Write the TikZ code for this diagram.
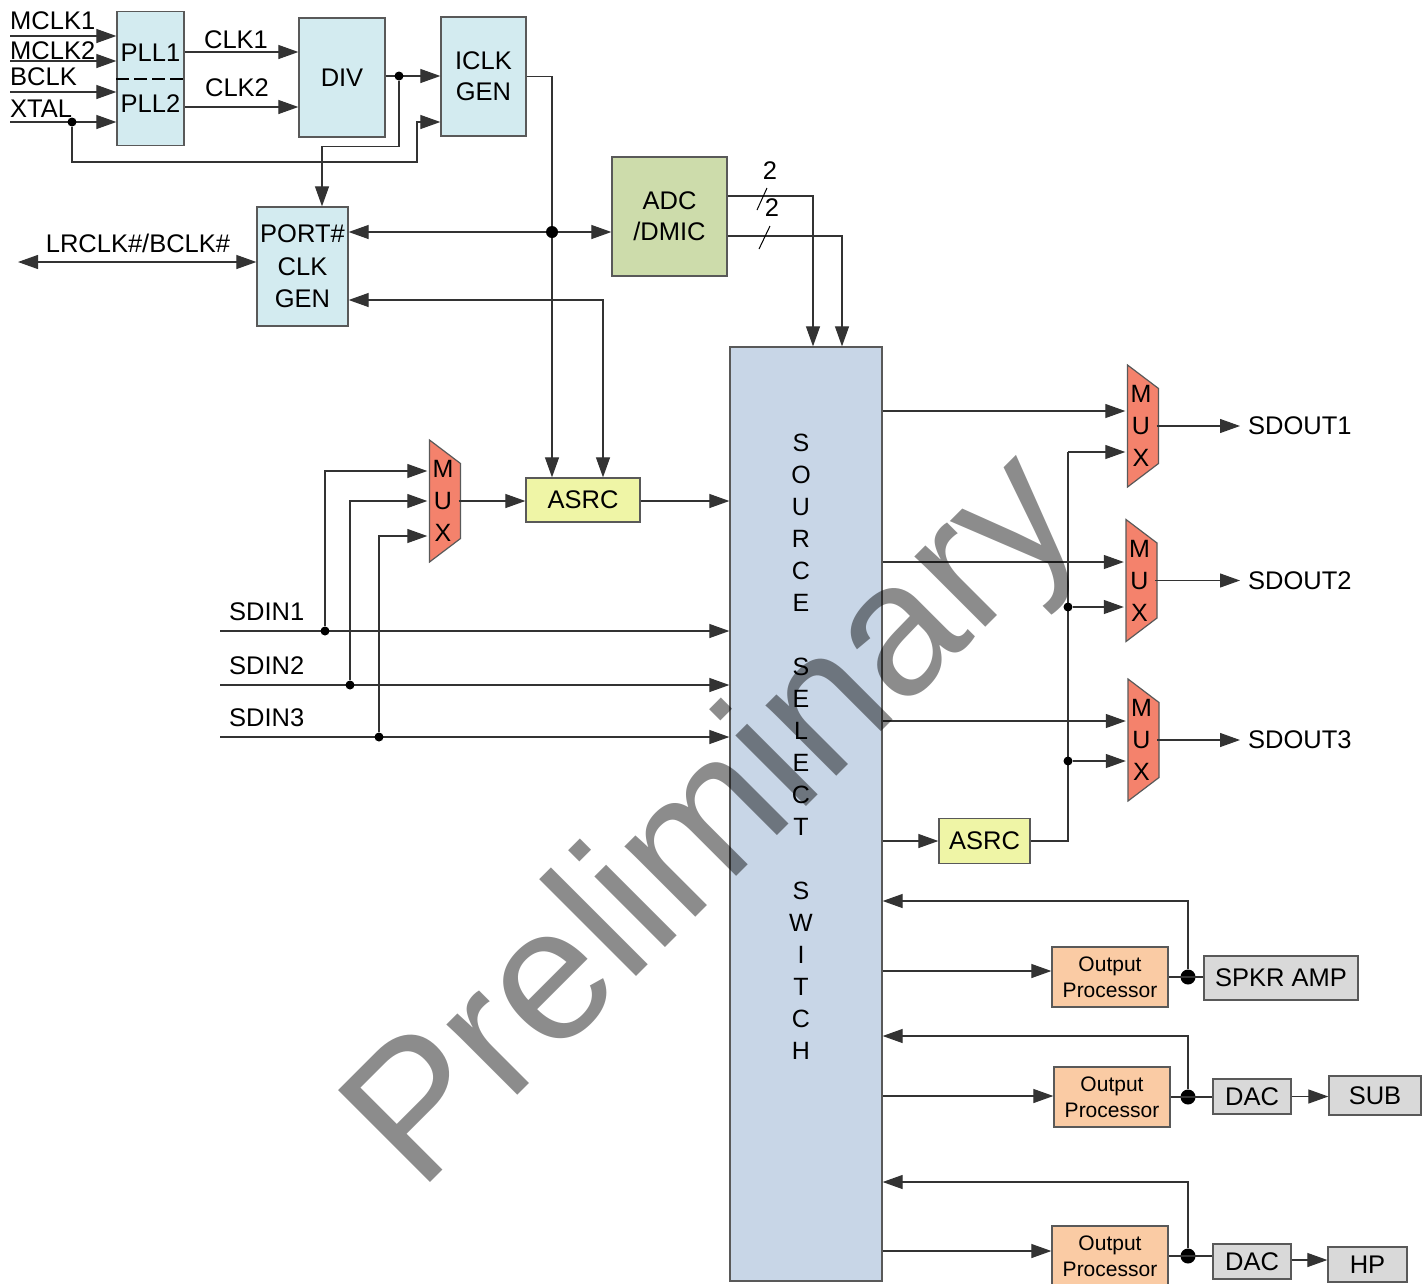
\documentclass[tikz,border=0pt]{standalone}
\usepackage{fontspec}
\setmainfont{Liberation Sans}
\usetikzlibrary{arrows.meta}

\definecolor{clkfill}{HTML}{D3EBF0}
\definecolor{adcfill}{HTML}{CDDCAB}
\definecolor{asrcfill}{HTML}{EFF5A6}
\definecolor{muxfill}{HTML}{F4826C}
\definecolor{sswfill}{HTML}{C8D6E7}
\definecolor{opfill}{HTML}{FACBA4}
\definecolor{devfill}{HTML}{D9D9D9}

\newcommand{\fsmain}{\fontsize{25.5}{31}\selectfont}
\newcommand{\fsport}{\fontsize{25.5}{32.5}\selectfont}
\newcommand{\fsop}{\fontsize{21}{26}\selectfont}
\newcommand{\fsssw}{\fontsize{25}{32}\selectfont}

\tikzset{
  wire/.style={line width=1.2pt, draw=black!80},
  arr/.style={-{Triangle[length=20pt,width=14pt]}},
  biarr/.style={{Triangle[length=20pt,width=14pt]}-{Triangle[length=20pt,width=14pt]}},
  blk/.style={draw=black!65, line width=1.3pt, inner sep=0pt, align=center, font=\fsmain},
  clkblk/.style={blk, fill=clkfill},
  adcblk/.style={blk, fill=adcfill},
  asrcblk/.style={blk, fill=asrcfill},
  sswblk/.style={blk, fill=sswfill},
  opblk/.style={blk, fill=opfill, font=\fsop},
  devblk/.style={blk, fill=devfill},
  muxshape/.style={draw=black!65, line width=1.2pt, fill=muxfill},
  muxbox/.style={minimum width=31pt, minimum height=122pt, inner sep=0pt, align=center, font=\fsssw},
  txt/.style={inner sep=0pt, font=\fsmain},
  dot/.style={circle, fill=black, inner sep=0pt, minimum size=9pt},
  bigdot/.style={dot, minimum size=15pt},
}

\newcommand{\muxat}[3]{%
    \draw[muxshape] (#2-15.5,#3-61) -- (#2+15.5,#3-37.5) -- (#2+15.5,#3+37.5) -- (#2-15.5,#3+61) -- cycle;
    \node[muxbox] (#1) at (#2-2,#3) {M\\U\\X};
}

\begin{document}
\begin{tikzpicture}[x=1pt, y=-1pt]
    \useasboundingbox (0,0) rectangle (1427,1283);

    \node[clkblk, minimum width=67pt, minimum height=134pt] (pll) at (150.5,78.5) {};
    \node[txt] (pllone) at (150.5,53) {PLL1};
    \node[txt] (plltwo) at (150.5,104) {PLL2};
    \draw[line width=2pt, dash pattern=on 13pt off 5pt] (pll.west) -- (pll.east);
    \node[clkblk, minimum width=86pt, minimum height=119pt] (div) at (342,77.5) {DIV};
    \node[clkblk, minimum width=85pt, minimum height=119pt] (iclk) at (483.5,76.5) {ICLK\\GEN};
    \node[clkblk, minimum width=91pt, minimum height=119pt, font=\fsport] (port) at (302.5,266.5) {PORT\#\\CLK\\GEN};
    \node[adcblk, minimum width=115pt, minimum height=119pt] (adc) at (669.5,216.5) {ADC\\/DMIC};

    \foreach \s/\y/\ly in {MCLK1/36/20.5, MCLK2/61/50.5, BCLK/92/76.5, XTAL/122/108.5} {
        \coordinate (in-\s) at (10,\y);
        \draw[wire, arr] (in-\s) -- (in-\s -| pll.west);
        \node[txt, anchor=west] (lbl-\s) at (10,\ly) {\s};
    }
    \draw[wire, arr] (pll.east |- 0,52) -- (div.west |- 0,52);
    \draw[wire, arr] (pll.east |- 0,107) -- (div.west |- 0,107);
    \node[txt] (lclkone) at (236,39.5) {CLK1};
    \node[txt] (lclktwo) at (237,88) {CLK2};

    \draw[wire, arr] (div.east |- 0,76) -- (iclk.west |- 0,76);
    \node[dot] (divtap) at (399,76) {};
    \draw[wire, arr] (divtap) -- ++(0,70.5) -| (port.north -| 322,0);
    \node[dot] (xtaltap) at (72,122) {};
    \draw[wire, arr] (xtaltap) |- (417,162) |- (iclk.west |- 0,122);

    \coordinate (lrend) at (18,262);
    \draw[wire, biarr] (lrend) -- (lrend -| port.west);
    \node[txt] (llrclk) at (138,243) {LRCLK\#/BCLK\#};

    \muxat{muxin}{445}{501}
    \node[asrcblk, minimum width=114pt, minimum height=44pt] (asrcone) at (583,500) {ASRC};
    \node[sswblk, minimum width=152pt, minimum height=934pt] (ssw) at (806,814) {};
    \node[txt, align=center, font=\fsssw] (sswtext) at (801,747)
        {S\\O\\U\\R\\C\\E\\[32pt]S\\E\\L\\E\\C\\T\\[32pt]S\\W\\I\\T\\C\\H};

    \draw[wire, arr] (iclk.east) -| (asrcone.north -| 552,0);
    \node[dot, minimum size=12pt] (clktap) at (552,232) {};
    \draw[wire, arr] (clktap) -- (port.east |- clktap);
    \draw[wire, arr] (clktap) -- (adc.west |- clktap);
    \draw[wire, biarr] (port.east |- 0,300) -| (asrcone.north -| 603,0);

    \draw[wire, arr] (adc.east |- 0,196) -| (ssw.north -| 813,0);
    \draw[wire, arr] (adc.east |- 0,236) -| (ssw.north -| 842,0);
    \draw[line width=1pt] (757,210) -- (767,188);
    \draw[line width=1pt] (759,249) -- (770,226);
    \node[txt] (wone) at (770,171) {2};
    \node[txt] (wtwo) at (772,208) {2};

    \foreach \n/\y/\xt/\my in {1/631/325/471, 2/685/350/501, 3/737/379/536} {
        \coordinate (sdin\n) at (220,\y);
        \draw[wire, arr] (sdin\n) -- (sdin\n -| ssw.west);
        \node[txt, anchor=west] (lsdin\n) at (229,\y-19) {SDIN\n};
        \node[dot] (tap\n) at (\xt,\y) {};
        \draw[wire, arr] (tap\n) |- (muxin.west |- 0,\my);
    }
    \draw[wire, arr] (muxin.east) -- (muxin.east -| asrcone.west);
    \draw[wire, arr] (asrcone.east |- muxin.east) -- (ssw.west |- muxin.east);

    \muxat{mux1}{1143}{426}
    \muxat{mux2}{1141.5}{580.5}
    \muxat{mux3}{1143.5}{740}
    \foreach \m/\y in {mux1/411, mux2/562, mux3/721}
        \draw[wire, arr] (ssw.east |- 0,\y) -- (\m.west |- 0,\y);
    \foreach \m/\s in {mux1/SDOUT1, mux2/SDOUT2, mux3/SDOUT3} {
        \node[txt, anchor=west, inner xsep=8pt] (\s) at (1240,0 |- \m.east) {\s};
        \draw[wire, arr] (\m.east) -- (\s.west);
    }

    \node[asrcblk, minimum width=91pt, minimum height=45pt] (asrctwo) at (984.5,841) {ASRC};
    \draw[wire, arr] (ssw.east |- asrctwo) -- (asrctwo.west);
    \coordinate (bus) at (1068,452);
    \draw[wire] (asrctwo.east) -| (bus);
    \draw[wire, arr] (bus) -- (bus -| mux1.west);
    \foreach \m/\y in {mux2/607, mux3/761} {
        \node[dot] (tap-\m) at (1068,\y) {};
        \draw[wire, arr] (tap-\m) -- (tap-\m -| \m.west);
    }

    \node[opblk, minimum width=116pt, minimum height=60pt] (opone) at (1110,977) {Output\\Processor};
    \node[opblk, minimum width=116pt, minimum height=60pt] (optwo) at (1112,1097) {Output\\Processor};
    \node[opblk, minimum width=116pt, minimum height=60pt] (opthree) at (1110,1256) {Output\\Processor};
    \node[devblk, minimum width=154pt, minimum height=44pt] (spkr) at (1281,978) {SPKR AMP};
    \node[devblk, minimum width=78pt, minimum height=35pt] (dacone) at (1252,1096.5) {DAC};
    \node[devblk, minimum width=92pt, minimum height=39pt] (sub) at (1375,1095.5) {SUB};
    \node[devblk, minimum width=78pt, minimum height=35pt] (dactwo) at (1252,1261.5) {DAC};
    \node[devblk, minimum width=79pt, minimum height=35pt] (hp) at (1367.5,1264.5) {HP};

    \foreach \o/\d/\iy/\fy in {opone/spkr/971/901, optwo/dacone/1096/1036, opthree/dactwo/1251/1182} {
        \draw[wire, arr] (ssw.east |- 0,\iy) -- (\o.west |- 0,\iy);
        \node[bigdot] (fb-\o) at (1188,0 |- \o.east) {};
        \draw[wire] (\o.east) -- (\d.west |- \o.east);
        \draw[wire, arr] (fb-\o) |- (ssw.east |- 0,\fy);
    }
    \draw[wire, arr] (dacone.east) -- (sub.west |- dacone.east);
    \draw[wire, arr] (dactwo.east |- 0,1260) -- (hp.west |- 0,1260);

    \node[rotate=45, anchor=base west, inner sep=0pt, font=\fontsize{189}{189}\selectfont,
        text=black, text opacity=0.45] (wmark) at (419,1194) {Preliminary};
\end{tikzpicture}
\end{document}
